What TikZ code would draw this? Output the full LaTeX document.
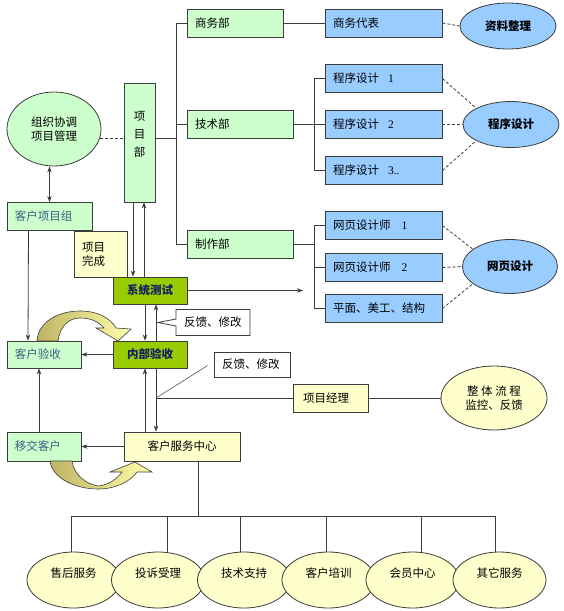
\documentclass[tikz,border=0pt]{standalone}
\usepackage{fontspec}
\setmainfont{Noto Sans CJK SC}
\newfontfamily\numfont{Liberation Serif}
\usepackage{xcolor}
\usepackage{tikz}
\usetikzlibrary{positioning,arrows.meta,shapes.geometric,shapes.callouts,calc}

\definecolor{palegreen}{RGB}{204,255,204}
\definecolor{paleblue}{RGB}{153,204,255}
\definecolor{paleyellow}{RGB}{255,255,204}
\definecolor{limegreen}{RGB}{153,204,0}
\definecolor{darknavy}{RGB}{20,30,100}
\definecolor{custblue}{RGB}{60,95,130}
\definecolor{edgegray}{RGB}{60,60,60}
\definecolor{curlolive}{RGB}{190,180,100}
\definecolor{curllight}{RGB}{255,255,170}

\begin{document}
\begin{tikzpicture}[
        x=1pt, y=-1pt,
        every node/.style={font=\fontsize{11.5}{14}\selectfont},
        box/.style={
            draw=edgegray,
            line width=0.8pt,
            align=left,
            inner xsep=8pt,
            inner ysep=0pt,
            minimum height=28pt
        },
        deptbox/.style={box, fill=palegreen},
        staffbox/.style={box, fill=paleblue},
        custbox/.style={box, fill=palegreen, text=custblue},
        notebox/.style={box, fill=paleyellow},
        testbox/.style={box, fill=limegreen, align=center, text=darknavy,
            font=\fontsize{11.5}{14}\selectfont\bfseries},
        feedbox/.style={box, fill=white, minimum height=26pt},
        teamell/.style={ellipse, draw=edgegray, line width=0.8pt, fill=paleblue,
            inner sep=0pt, font=\fontsize{11.5}{14}\selectfont\bfseries},
        serviceell/.style={ellipse, draw=edgegray, line width=0.8pt, fill=paleyellow,
            minimum width=93pt, minimum height=56pt, inner sep=0pt,
            text height=9pt, text depth=14pt},
        link/.style={draw=edgegray, line width=0.8pt},
        dashlink/.style={link, dash pattern=on 3pt off 2pt},
        arrow/.style={link, -{Stealth[length=6pt,width=4.5pt]}},
        twoway/.style={link, {Stealth[length=6pt,width=4.5pt]}-{Stealth[length=6pt,width=4.5pt]}},
        curl/.style={draw=edgegray, line width=0.6pt, left color=curlolive, right color=curllight}
    ]
        \fill[white] (0,0) rectangle (564,611);
        \useasboundingbox (0,0) rectangle (564,611);

        % Project department
        \node[ellipse, draw=edgegray, line width=0.8pt, fill=palegreen, align=center,
              minimum width=94pt, minimum height=74pt] (zzxt) at (54,129) {组织协调\\项目管理};
        \node[box, fill=palegreen, minimum width=31pt, minimum height=119pt, inner xsep=0pt] (xmb) at (139.5,142.5) {};
        \node[align=center, font=\fontsize{11.5}{18}\selectfont] (xmbtext) at (139.5,134) {项\\目\\部};

        \node[deptbox, text width=80pt] (swb) at (235,23) {商务部};
        \node[deptbox, text width=90pt] (jsb) at (240,124.5) {技术部};
        \node[deptbox, text width=90pt] (zzb) at (240,244.5) {制作部};

        % Staff column
        \node[staffbox, text width=101pt] (swdb) at (383.5,23) {商务代表};
        \node[staffbox, text width=101pt] (cx1) at (383.5,78.5) {程序设计\hspace{9pt}{\numfont 1}};
        \node[staffbox, text width=101pt] (cx2) at (383.5,124.5) {程序设计\hspace{9pt}{\numfont 2}};
        \node[staffbox, text width=101pt] (cx3) at (383.5,170.5) {程序设计\hspace{9pt}{\numfont 3..}};
        \node[staffbox, text width=101pt] (wy1) at (383.5,225.5) {网页设计师\hspace{11pt}{\numfont 1}};
        \node[staffbox, text width=101pt] (wy2) at (383.5,267.5) {网页设计师\hspace{11pt}{\numfont 2}};
        \node[staffbox, text width=101pt] (pm) at (383.5,308.5) {平面、美工、结构};

        % Teams
        \node[teamell, minimum width=96pt, minimum height=46pt] (zlzl) at (508,26) {资料整理};
        \node[teamell, minimum width=96pt, minimum height=46pt] (cxsj) at (511,124.5) {程序设计};
        \node[teamell, minimum width=95pt, minimum height=54pt] (wysj) at (510,266.5) {网页设计};

        % Customer side
        \node[custbox, text width=69pt] (khxmz) at (49.5,216.5) {客户项目组};
        \node[notebox, text width=37pt, minimum height=46pt] (xmwc) at (100.5,254) {项目\\完成};
        \node[testbox, text width=58pt, minimum height=27pt] (xtcs) at (150,290.5) {系统测试};
        \node[testbox, text width=58pt, minimum height=27pt] (nbys) at (150,354.5) {内部验收};
        \node[custbox, text width=58pt, minimum height=27pt] (khys) at (44,354.5) {客户验收};
        \node[feedbox, rectangle callout, callout absolute pointer={(158,322.5)},
              callout pointer width=7pt, text width=58pt] (fk1) at (213,322.5) {反馈、修改};
        \node[feedbox, text width=60pt, minimum height=25pt] (fk2) at (252,364.5) {反馈、修改};
        \node[notebox, text width=55pt, inner xsep=10pt] (xmjl) at (330.5,398) {项目经理};
        \node[ellipse, draw=edgegray, line width=0.8pt, fill=paleyellow, align=center,
              minimum width=106pt, minimum height=64pt] (ztlc) at (494,398) {整 体 流 程\\监控、反馈};
        \node[custbox, text width=58pt, minimum height=29pt] (yjkh) at (44,446.5) {移交客户};
        \node[notebox, text width=100pt, align=center, minimum height=29pt] (khfw) at (182,446.5) {客户服务中心};

        % Services
        \node[serviceell] (e1) at (73.5,580) {售后服务};
        \node[serviceell] (e2) at (158,580) {投诉受理};
        \node[serviceell] (e3) at (244,580) {技术支持};
        \node[serviceell] (e4) at (328.5,580) {客户培训};
        \node[serviceell] (e5) at (412.5,580) {会员中心};
        \node[serviceell] (e6) at (499.5,580) {其它服务};

        % Tree lines
        \coordinate (trunk) at (176,138);
        \coordinate (cxbr) at (314,124.5);
        \draw[dashlink] (zzxt.-11) -- (zzxt.-11 -| xmb.west);
        \draw[link] (xmb.east |- trunk) -- (trunk);
        \draw[link] (swb.west) -| (trunk |- zzb.west) -- (zzb.west);
        \draw[link] (trunk |- jsb.west) -- (jsb.west);
        \draw[link] (swb.east) -- (swdb.west);
        \draw[link] (jsb.east) -- (cx2.west);
        \draw[link] (cx1.west) -| (cxbr |- cx3.west) -- (cx3.west);
        \draw[link] (zzb.east) -- (zzb.east -| cxbr);
        \draw[link] (wy1.west) -| (cxbr |- pm.west) -- (pm.west);
        \draw[link] (cxbr |- wy2.west) -- (wy2.west);

        % Team links
        \draw[dashlink] (swdb.east) -- (zlzl.west);
        \draw[dashlink] (cx1.east) -- (cxsj.155);
        \draw[dashlink] (cx2.east) -- (cxsj.west);
        \draw[dashlink] (cx3.east) -- (cxsj.205);
        \draw[dashlink] (wy1.east) -- (wysj.155);
        \draw[dashlink] (wy2.east) -- (wysj.west);
        \draw[dashlink] (pm.east) -- (wysj.205);

        % Test flow
        \coordinate (xtout) at (303,290.5);
        \draw[twoway] (khxmz.north) -- (khxmz.north |- zzxt.south);
        \draw[arrow] ([xshift=-21pt]khxmz.south) -- ([xshift=-16pt]khys.north);
        \draw[arrow] ([xshift=-6.5pt]xmb.south) -- ([xshift=-17pt]xtcs.north);
        \draw[arrow] ([xshift=-6pt]xtcs.north) -- ([xshift=4.5pt]xmb.south);
        \draw[arrow] (xtcs.east) -- (xtout);
        \draw[arrow] ([xshift=-5pt]xtcs.south) -- ([xshift=-5pt]nbys.north);
        \draw[arrow] ([xshift=6pt]nbys.north) -- ([xshift=6pt]xtcs.south);
        \draw[arrow] (nbys.west) -- (khys.east);
        \draw[arrow] ([xshift=-5pt]nbys.south |- khfw.north) -- ([xshift=-5pt]nbys.south);
        \draw[arrow] ([xshift=6pt]nbys.south) -- ([xshift=6pt]nbys.south |- khfw.north);
        \coordinate (jct) at ([xshift=6pt]nbys.south |- xmjl.west);
        \draw[link] (jct) -- (xmjl.west);
        \draw[link] (xmjl.east) -- (ztlc.west);
        \draw[link, line width=0.5pt] ([xshift=-6pt,yshift=-1pt]fk2.west) -- (jct);
        \draw[arrow] (khfw.west) -- (yjkh.east);
        \draw[arrow] ([xshift=-5pt]yjkh.north) -- ([xshift=-5pt]khys.south);

        % Service bus
        \coordinate (bus) at (198,516);
        \coordinate (busL) at (71,516);
        \coordinate (busR) at (495,516);
        \draw[link] (bus |- khfw.south) -- (bus);
        \draw[link] (busL) -- (busR);
        \foreach \n/\x in {e1/71, e2/167, e3/240, e4/326, e5/421, e6/495}
            \draw[link] (\x,516) -- (\x,0 |- \n.north);

        % Curved arrows
        \path[curl] (37,341) .. controls (38,322) and (58,311) .. (80,311)
            .. controls (98,311) and (110,318) .. (116,328) -- (131,329) -- (118,341)
            -- (96,328) -- (104,328) .. controls (98,321) and (90,318) .. (80,318)
            .. controls (68,318) and (60,327) .. (58,341) -- cycle;
        \path[curl] (50,461) .. controls (52,478) and (75,489) .. (98,489)
            .. controls (115,489) and (130,482) .. (137,472) -- (152,472) -- (135,462)
            -- (110,472) -- (122,472) .. controls (116,480) and (108,485) .. (98,486)
            .. controls (86,484) and (74,475) .. (72,461) -- cycle;

    \end{tikzpicture}
\end{document}
